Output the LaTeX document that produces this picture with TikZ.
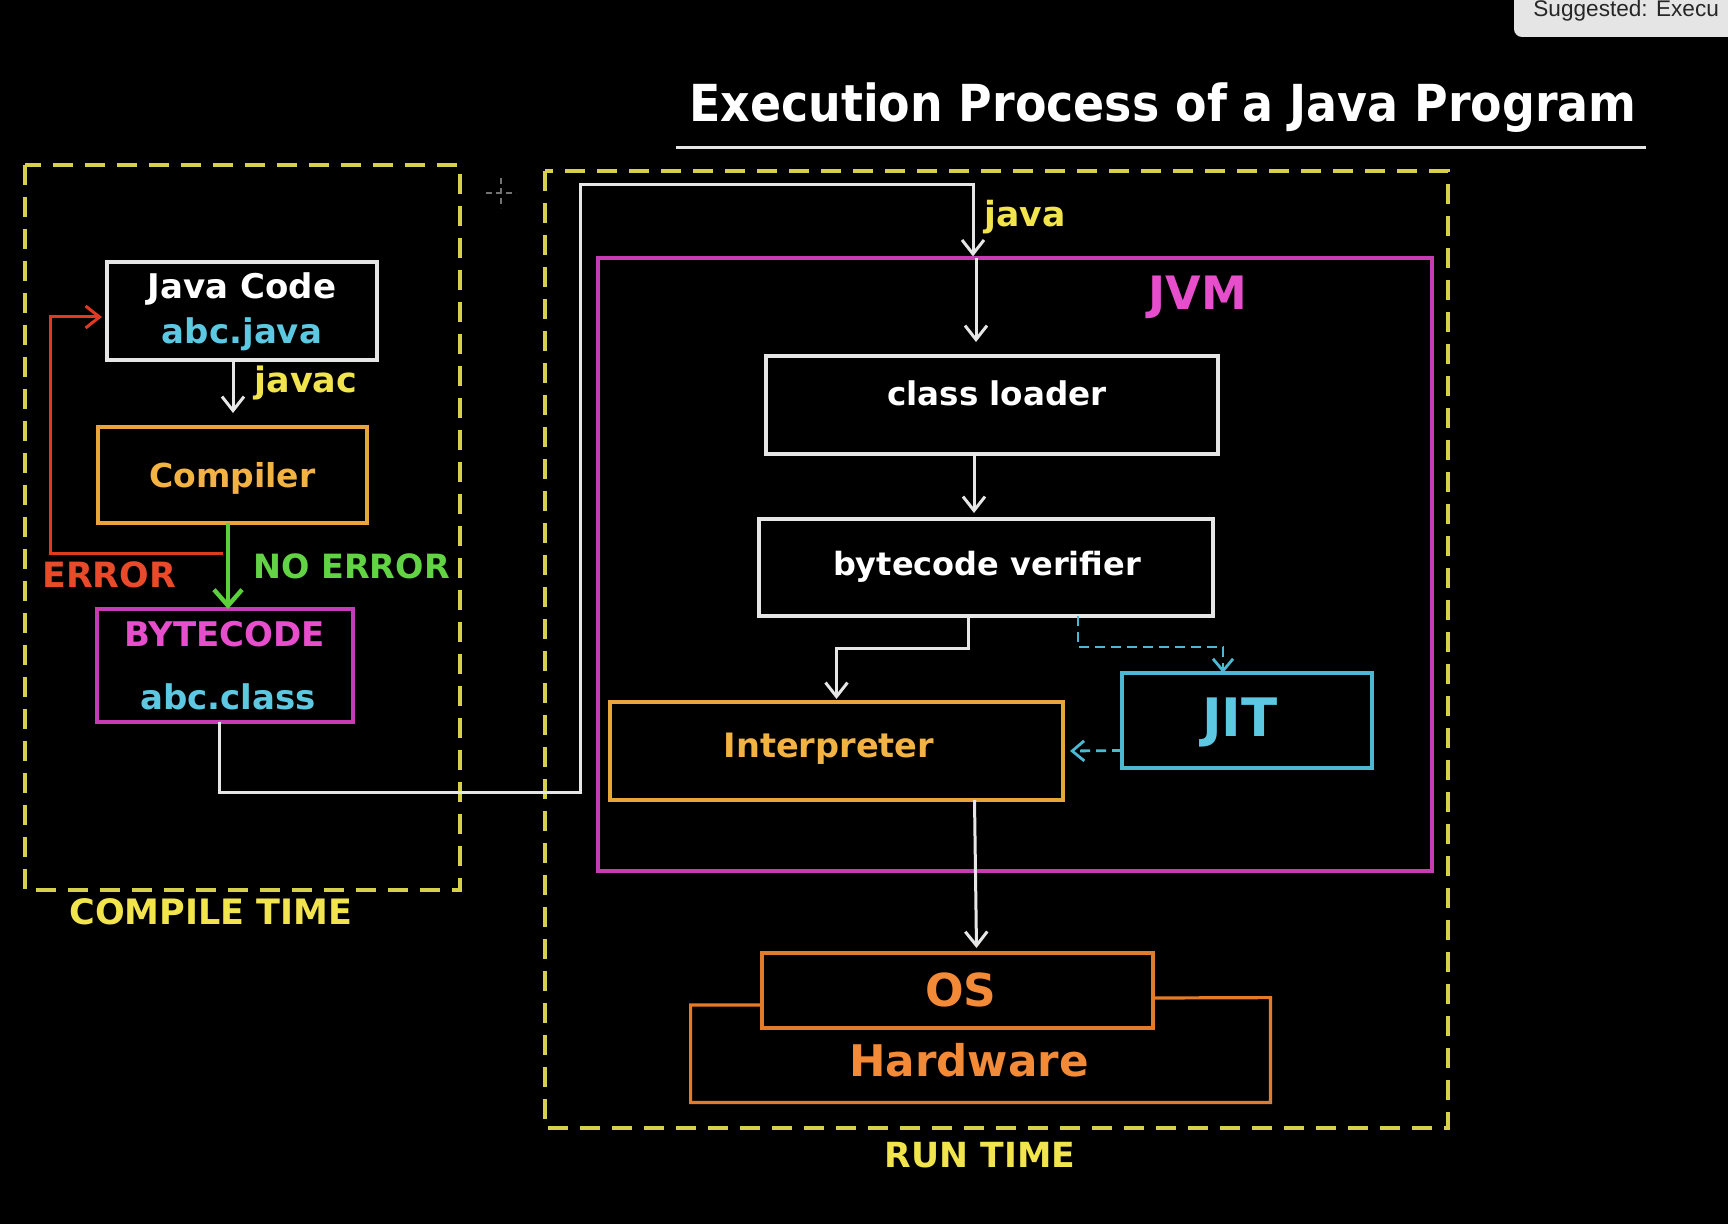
\documentclass[tikz,border=0pt]{standalone}
\usepackage{fontspec}
\setmainfont{DejaVu Sans}
\newfontfamily\titlefont{DejaVu Sans Condensed}
\newfontfamily\uifont{Liberation Sans}
\usetikzlibrary{arrows.meta,calc}
\definecolor{dyel}{HTML}{D6D04A}
\definecolor{tyel}{HTML}{F2E44C}
\definecolor{tcyan}{HTML}{5CC8E2}
\definecolor{jitc}{HTML}{4CB8D2}
\definecolor{mag}{HTML}{C63CB4}
\definecolor{tmag}{HTML}{E64ECC}
\definecolor{orng}{HTML}{E8A63A}
\definecolor{torng}{HTML}{F2B244}
\definecolor{osor}{HTML}{E07C2C}
\definecolor{tosor}{HTML}{F28A38}
\definecolor{redc}{HTML}{E03A22}
\definecolor{tred}{HTML}{E84A2A}
\definecolor{grn}{HTML}{5AD03A}
\definecolor{tgrn}{HTML}{62D444}
\definecolor{wline}{HTML}{E6E6E6}
\tikzset{
  boxw/.style={draw=wline, line width=1.6pt, inner sep=0pt, outer sep=0pt, rectangle},
  dashbox/.style={draw=dyel, line width=1.6pt, dash pattern=on 10pt off 6pt},
  txt/.style={inner sep=0pt, font=\bfseries},
  barb/.style={-{Straight Barb[length=7pt,width=11pt,line width=1.5pt]}},
  warr/.style={draw=wline, line width=1.5pt, barb},
  cyarr/.style={draw=jitc, line width=1.4pt, dash pattern=on 5pt off 3pt, -{Straight Barb[length=6pt,width=10pt,line width=1.4pt]}},
}
\newcommand\fsz[1]{\bfseries\fontsize{#1}{#1}\selectfont}
\begin{document}
\begin{tikzpicture}[x=0.5pt,y=-0.5pt]
\fill[black] (0,0) rectangle (1728,1224);
\useasboundingbox (0,0) rectangle (1728,1224);

% suggested box (top right)
\begin{scope}
\clip (0,0) rectangle (1728,1224);
\fill[black!10, rounded corners=4pt] (1514,-20) rectangle (1760,37);
\node[anchor=base west, inner sep=0pt, font=\uifont\fontsize{11.3}{13}\selectfont, text=black!85] (sugg) at (1533,17) {Suggested: Execu};
\end{scope}

% title
\node[txt, font=\titlefont\fsz{25.5}, text=white] (title) at (1163,108) {Execution Process of a Java Program};
\draw[wline, line width=1.6pt] ($(title.south west)+(-13,14)$) -- ($(title.south east)+(9,14)$);

% cursor cross
\draw[black!55, line width=0.6pt, dash pattern=on 3pt off 2pt] (486,193) -- (516,193) (501,178) -- (501,208);

% compile time box
\draw[dashbox] (25,165) rectangle (460,890);
\node[txt, text=tyel, font=\fsz{17.5}] (ct) at (211,912) {COMPILE TIME};

% run time box
\draw[dashbox] (545,171) rectangle (1448,1128);
\node[txt, text=tyel, font=\fsz{17.3}] (rt) at (980,1155) {RUN TIME};

% JVM box
\node[draw=mag, line width=1.6pt, inner sep=0pt, minimum width=417pt, minimum height=306.5pt] (jvm) at (1015,564.5) {};
\node[txt, text=tmag, font=\fsz{23}] (jvmt) at (1198,297) {JVM};

% compile-time nodes
\node[boxw, minimum width=135pt, minimum height=49pt] (javacode) at (242,311) {};
\node[txt, text=white, font=\fsz{17}] (jct) at (242,289) {Java Code};
\node[txt, text=tcyan, font=\fsz{17}] (jcf) at (242,334) {abc.java};

\node[boxw, draw=orng, minimum width=134.5pt, minimum height=48pt] (compiler) at (232.5,475) {};
\node[txt, text=torng, font=\fsz{16.5}] (compt) at (232.5,478) {Compiler};

\node[boxw, draw=mag, minimum width=128pt, minimum height=56.5pt] (bytecode) at (225,665.5) {};
\node[txt, text=tmag, font=\fsz{17}] (bct) at (225,634) {BYTECODE};
\node[txt, text=tcyan, font=\fsz{17}] (bcf) at (228,697) {abc.class};

\node[txt, text=tyel, font=\fsz{17.5}, anchor=west] (javac) at (254,383) {javac};
\node[txt, text=tred, font=\fsz{17.4}, anchor=west] (err) at (42,575) {ERROR};
\node[txt, text=tgrn, font=\fsz{16.7}, anchor=west] (noerr) at (253,566) {NO ERROR};

% compile-time connectors
\draw[warr] ($(javacode.south)+(-9,0)$) -- ($(compiler.north)+(0.5,-14)$);
\draw[draw=grn, line width=2pt, -{Straight Barb[length=8pt,width=14pt,line width=2.2pt]}] ($(compiler.south)+(-4.5,0)$) -- ($(bytecode.north)+(3,0)$);
\coordinate (redstart) at ($(compiler.south)+(-10,30)$);
\draw[draw=redc, line width=1.5pt, -{Straight Barb[length=7pt,width=11pt,line width=1.5pt]}] (redstart) -- ++(-172,0) |- ($(javacode.west)+(-5,6)$);

% run-time nodes
\node[boxw, minimum width=226pt, minimum height=49pt] (classloader) at (992,405) {};
\node[txt, text=white, font=\fsz{16.3}] (clt) at (997,393) {class loader};
\node[boxw, minimum width=227pt, minimum height=48.5pt] (verifier) at (986,567.5) {};
\node[txt, text=white, font=\fsz{16}] (vt) at (987,567) {bytecode verifier};
\node[boxw, draw=orng, line width=2pt, minimum width=226.5pt, minimum height=49pt] (interp) at (836.5,751) {};
\node[txt, text=torng, font=\fsz{16.8}] (it) at (829,749) {Interpreter};
\node[boxw, draw=jitc, minimum width=125pt, minimum height=47.5pt] (jit) at (1247,720.5) {};
\node[txt, text=tcyan, font=\fsz{26.5}] (jitt) at (1240,722) {JIT};
\node[txt, text=tyel, font=\fsz{17.3}, anchor=west] (javat) at (984,217) {java};

% OS / hardware
\node[boxw, draw=osor, minimum width=195.5pt, minimum height=37.5pt] (os) at (957.5,990.5) {};
\node[txt, text=tosor, font=\fsz{22.7}] (ost) at (961,990) {OS};
\node[inner sep=0pt, minimum width=289.5pt, minimum height=52pt] (hw) at (980.5,1050) {};
\draw[osor, line width=1.6pt] ($(os.south west)+(0,-23)$) -- (hw.north west |- 0,1005) -- (hw.south west) -- (hw.south east) -- (hw.north east) -- ($(os.north east)+(0,45)$);
\node[txt, text=tosor, font=\fsz{21.8}] (hwt) at (969,1060) {Hardware};

% run-time connectors
\coordinate (javain) at ($(jvm.north)+(-42,0)$);
\coordinate (cA) at (580,792);
\coordinate (cB) at (580,185);
\draw[warr] ($(bytecode.south)+(-6,0)$) |- (cA) -- (cB) -| (javain);
\draw[warr] ($(javain)+(3,2)$) -- ($(classloader.north)+(-16,-14)$);
\draw[warr] ($(classloader.south)+(-18,0)$) -- ($(verifier.north)+(-12,-6)$);
\draw[warr] ($(verifier.south)+(-18,0)$) -- ++(0,32) -| ($(interp.north)+(0,-3)$);
\draw[cyarr] ($(verifier.south)+(92,0)$) -- ++(0,31) -| ($(jit.north)+(-24,0)$);
\draw[cyarr] ($(jit.west)+(0,30)$) -- ($(interp.east)+(7,0)$);
\draw[warr] ($(interp.south)+(138,0)$) -- ($(os.north)+(19,-5)$);
\end{tikzpicture}
\end{document}
